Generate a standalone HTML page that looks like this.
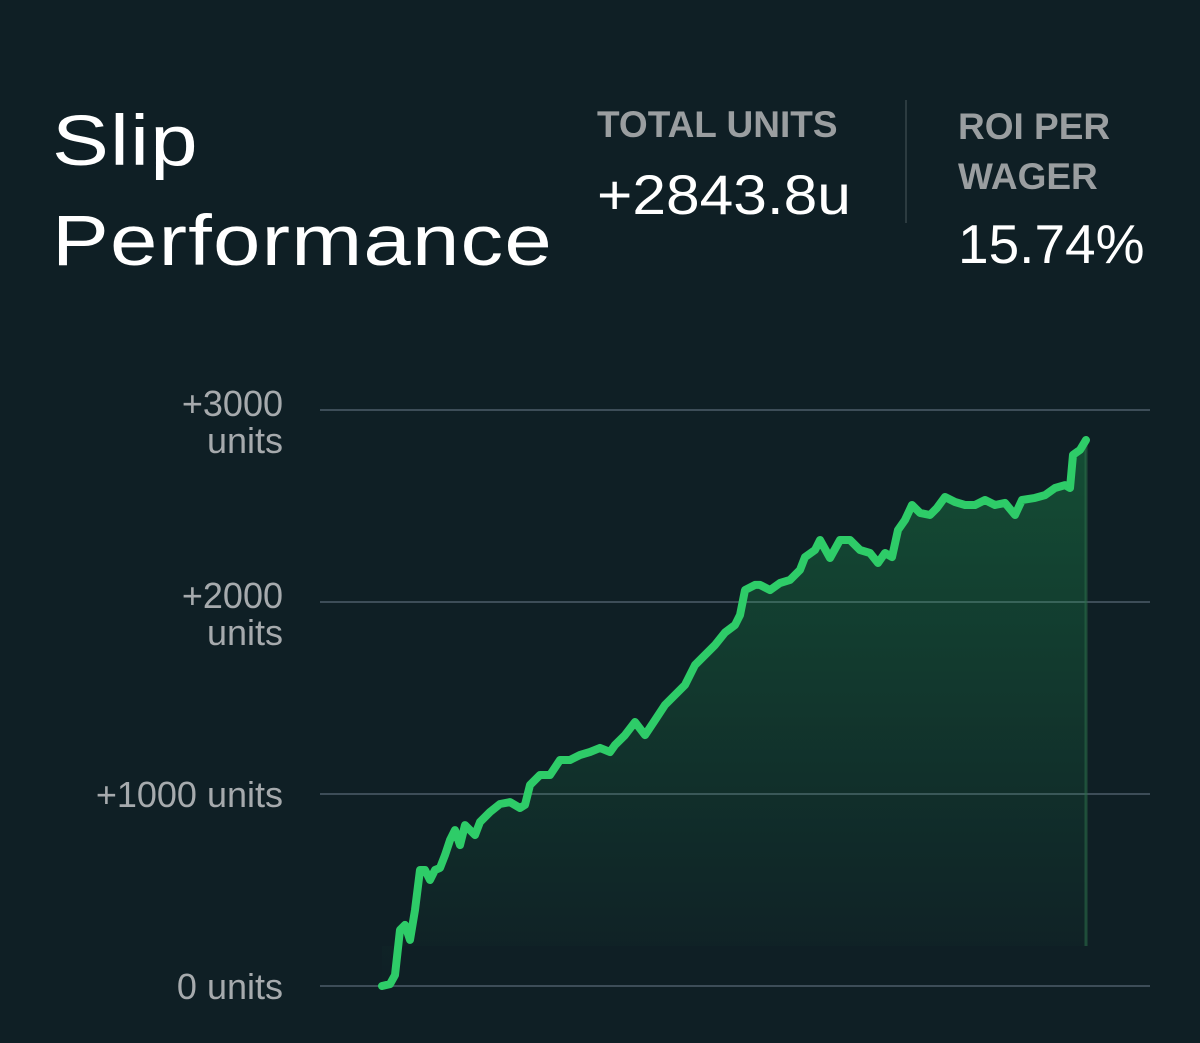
<!DOCTYPE html>
<html><head><meta charset="utf-8"><style>
html,body{margin:0;padding:0;background:#0f1f25;}
#root{position:relative;width:1200px;height:1043px;background:#0f1f25;overflow:hidden;font-family:"Liberation Sans",sans-serif;}
.t{position:absolute;white-space:nowrap;}
</style></head><body>
<div id="root">
<div class="t" style="left:52px;top:92px;font-size:71px;line-height:100px;color:#fff;letter-spacing:1px;transform:scaleX(1.2);transform-origin:left;">Slip<br>Performance</div>
<div class="t" style="left:597px;top:104px;font-size:37px;color:#9a9ea0;font-weight:bold;">TOTAL UNITS</div>
<div class="t" style="left:597px;top:162px;font-size:56px;color:#fff;transform:scaleX(1.08);transform-origin:left;">+2843.8u</div>
<div style="position:absolute;left:905px;top:100px;width:2px;height:123px;background:#2c3b40;"></div>
<div class="t" style="left:958px;top:102px;font-size:37px;line-height:50px;color:#9a9ea0;font-weight:bold;">ROI PER<br>WAGER</div>
<div class="t" style="left:958px;top:212px;font-size:55px;color:#fff;">15.74%</div>
<svg id="chart" width="1200" height="1043" style="position:absolute;left:0;top:0;">
<defs>
<linearGradient id="fillg" x1="0" y1="0" x2="0" y2="1">
<stop offset="0" stop-color="#22c55e" stop-opacity="0.28"/>
<stop offset="0.7" stop-color="#22c55e" stop-opacity="0.08"/>
<stop offset="1" stop-color="#22c55e" stop-opacity="0"/>
</linearGradient>
</defs>
<g id="grid"></g><g id="area"></g><g id="line"></g>
</svg>
</div>
<script>
const tickValues = [0, 1000, 2000, 3000];
const tickLabels = [["0 units"], ["+1000 units"], ["+2000", "units"], ["+3000", "units"]];
const slipIndex = [0,8,13,18,23,28,33,38,43,48,53,58,63,68,73,78,83,88,93,98,108,118,128,138,143,148,158,168,178,188,198,208,218,228,233,243,253,263,273,283,293,303,313,323,333,343,353,358,363,373,378,388,398,408,418,423,433,438,448,458,468,478,488,496,503,510,516,523,530,538,548,555,563,573,583,593,603,613,623,633,640,653,663,673,683,688,691,698,704];
const units = [0,10,57,292,318,240,396,604,604,552,604,615,682,760,812,734,838,812,786,854,906,948,958,927,943,1047,1099,1099,1177,1177,1203,1219,1240,1219,1255,1307,1375,1307,1385,1464,1516,1568,1672,1724,1776,1841,1880,1932,2062,2089,2089,2062,2099,2115,2167,2234,2271,2323,2229,2323,2323,2271,2255,2203,2255,2234,2375,2427,2505,2464,2453,2490,2547,2521,2505,2505,2531,2505,2516,2453,2531,2542,2557,2594,2609,2594,2766,2792,2844];
const maxSlip = 704;
const NS = "http://www.w3.org/2000/svg";
const X0 = 382, X1 = 1086, Y0 = 986, PX_PER_UNIT = 0.192;
function xs(i){ return X0 + (i / maxSlip) * (X1 - X0); }
function ys(v){ return Y0 - v * PX_PER_UNIT; }
const grid = document.getElementById('grid');
tickValues.forEach((v, k) => {
  const ln = document.createElementNS(NS, 'line');
  ln.setAttribute('x1', 320); ln.setAttribute('x2', 1150);
  ln.setAttribute('y1', ys(v)); ln.setAttribute('y2', ys(v));
  ln.setAttribute('stroke', '#3d4d58'); ln.setAttribute('stroke-width', 2);
  
  
  grid.appendChild(ln);
  const lines = tickLabels[k];
  const tx = document.createElementNS(NS, 'text');
  tx.setAttribute('x', 283); tx.setAttribute('text-anchor', 'end');
  tx.setAttribute('fill', '#a6aaad'); tx.setAttribute('font-size', '36');
  tx.setAttribute('font-family', 'Liberation Sans, sans-serif');
  
  
  if (lines.length === 1) {
    tx.setAttribute('y', ys(v) + 13);
    tx.textContent = lines[0];
  } else {
    lines.forEach((s, j) => {
      const sp = document.createElementNS(NS, 'tspan');
      sp.setAttribute('x', 283);
      sp.setAttribute('y', ys(v) + 6 + j * 37);
      sp.textContent = s;
      tx.appendChild(sp);
    });
  }
  grid.appendChild(tx);
});
let d = '';
slipIndex.forEach((s, i) => { d += (i ? 'L' : 'M') + xs(s).toFixed(1) + ' ' + ys(units[i]).toFixed(1); });
const area = document.createElementNS(NS, 'path');
area.setAttribute('d', d + 'L' + xs(slipIndex[slipIndex.length-1]) + ' ' + (Y0 - 40) + 'L' + xs(0) + ' ' + (Y0 - 40) + 'Z');
area.setAttribute('fill', 'url(#fillg)');


document.getElementById('area').appendChild(area);
const edge = document.createElementNS(NS, 'line');
edge.setAttribute('x1', xs(slipIndex[slipIndex.length-1])); edge.setAttribute('x2', xs(slipIndex[slipIndex.length-1]));
edge.setAttribute('y1', ys(units[units.length-1])); edge.setAttribute('y2', Y0 - 40);
edge.setAttribute('stroke', '#2a6b47'); edge.setAttribute('stroke-width', 3); edge.setAttribute('stroke-opacity', '0.6');


document.getElementById('area').appendChild(edge);
const line = document.createElementNS(NS, 'path');
line.setAttribute('d', d);
line.setAttribute('fill', 'none'); line.setAttribute('stroke', '#2ecc68');
line.setAttribute('stroke-width', 8); line.setAttribute('stroke-linejoin', 'round'); line.setAttribute('stroke-linecap', 'round');


document.getElementById('line').appendChild(line);
</script>
</body></html>
